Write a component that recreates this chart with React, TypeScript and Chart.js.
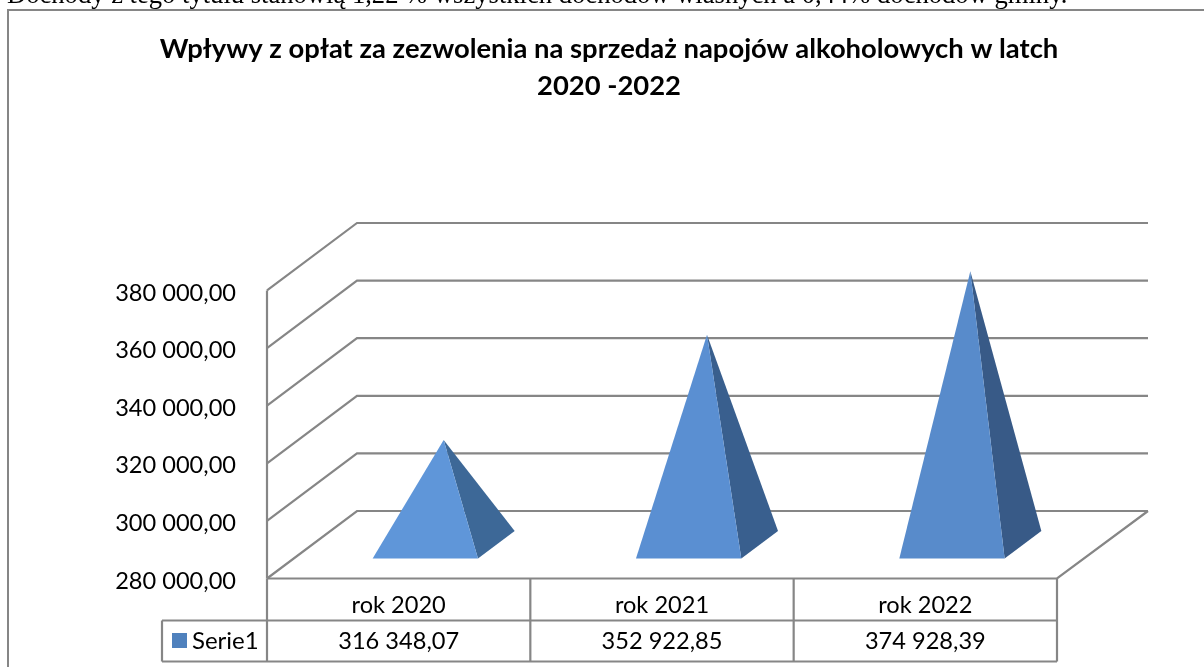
import React, { useEffect, useRef } from "react";
import { Chart, registerables } from "chart.js";

Chart.register(...registerables);

const intro = "Dochody z tego tytułu stanowią 1,22 % wszystkich dochodów własnych a 0,44% dochodów gminy.";
const titleLines = ["Wpływy z opłat za zezwolenia na sprzedaż napojów alkoholowych w latch", "2020 -2022"];
const categories = ["rok 2020", "rok 2021", "rok 2022"];
const seriesName = "Serie1";
const seriesValues = [316348.07, 352922.85, 374928.39];
const frontColors = ["#5f96d9", "#5a8fd2", "#588bcb"];
const sideColors = ["#3d6897", "#395f8e", "#385a87"];

const FONT = "Lato, Carlito, Calibri, sans-serif";
const LINE = "#868686";
const DEPTH_X = 90;
const DEPTH_Y = 67.5;
const BASE_INSET = 0.296;

const fmt = (v: number) => {
  const [a, b] = v.toFixed(2).split(".");
  return a.replace(/\B(?=(\d{3})+(?!\d))/g, " ") + "," + b;
};

const scene = {
  id: "scene3d",
  beforeDatasetsDraw(chart: any) {
    const { ctx, scales } = chart;
    const y = scales.y;
    const x = scales.x;
    const { left, right, bottom, top } = chart.chartArea;
    ctx.save();
    ctx.strokeStyle = LINE;
    ctx.lineWidth = 2.2;
    ctx.lineJoin = "miter";
    y.ticks.forEach((t: any) => {
      const py = y.getPixelForValue(t.value);
      ctx.beginPath();
      ctx.moveTo(left, py);
      ctx.lineTo(left + DEPTH_X, py - DEPTH_Y);
      ctx.lineTo(right + DEPTH_X + 1, py - DEPTH_Y);
      ctx.stroke();
    });
    ctx.beginPath();
    ctx.moveTo(right + DEPTH_X + 1, bottom - DEPTH_Y);
    ctx.lineTo(right, bottom);
    ctx.lineTo(left, bottom);
    ctx.stroke();
    ctx.beginPath();
    ctx.moveTo(left, top);
    ctx.lineTo(left, bottom);
    ctx.stroke();

    const tableMid = 620.5;
    const tableBottom = 661.5;
    const tableLeft = 162;
    ctx.beginPath();
    ctx.moveTo(tableLeft, tableMid);
    ctx.lineTo(right, tableMid);
    ctx.moveTo(tableLeft, tableBottom);
    ctx.lineTo(right, tableBottom);
    ctx.moveTo(tableLeft, tableMid);
    ctx.lineTo(tableLeft, tableBottom);
    const step = (right - left) / categories.length;
    for (let i = 0; i <= categories.length; i++) {
      ctx.moveTo(left + step * i, bottom);
      ctx.lineTo(left + step * i, tableBottom);
    }
    ctx.stroke();

    ctx.fillStyle = "#4f81bd";
    ctx.fillRect(172, 633, 15, 15);
    ctx.fillStyle = "#000";
    ctx.textBaseline = "middle";
    ctx.textAlign = "left";
    ctx.font = `24px ${FONT}`;
    ctx.fillText(seriesName, 192, 641);
    ctx.font = `23.6px ${FONT}`;
    ctx.textAlign = "center";
    seriesValues.forEach((v, i) => {
      ctx.fillText(fmt(v), x.getPixelForValue(i), 641);
    });
    ctx.restore();
  },
  afterDatasetsDraw(chart: any) {
    const { ctx } = chart;
    const bottom = chart.chartArea.bottom;
    chart.getDatasetMeta(0).data.forEach((bar: any, i: number) => {
      const w = bar.width;
      const fx = bar.x + BASE_INSET * DEPTH_X;
      const fy = bottom - BASE_INSET * DEPTH_Y;
      const bx = bar.x + (1 - BASE_INSET) * DEPTH_X;
      const by = bottom - (1 - BASE_INSET) * DEPTH_Y;
      const apexX = bar.x + DEPTH_X / 2;
      const apexY = bar.y - DEPTH_Y / 2;
      ctx.save();
      ctx.fillStyle = sideColors[i];
      ctx.beginPath();
      ctx.moveTo(apexX, apexY);
      ctx.lineTo(fx + w / 2, fy);
      ctx.lineTo(bx + w / 2, by);
      ctx.closePath();
      ctx.fill();
      ctx.fillStyle = frontColors[i];
      ctx.beginPath();
      ctx.moveTo(apexX, apexY);
      ctx.lineTo(fx - w / 2, fy);
      ctx.lineTo(fx + w / 2, fy);
      ctx.closePath();
      ctx.fill();
      ctx.restore();
    });
  },
};

export default function App() {
  const ref = useRef<HTMLCanvasElement>(null);
  useEffect(() => {
    document.body.style.margin = "0";
    const chart = new Chart(ref.current as HTMLCanvasElement, {
      type: "bar",
      data: {
        labels: categories,
        datasets: [
          {
            label: seriesName,
            data: seriesValues,
            backgroundColor: "rgba(0,0,0,0)",
            categoryPercentage: 0.4,
            barPercentage: 1,
          },
        ],
      },
      plugins: [scene],
      options: {
        responsive: false,
        animation: false,
        events: [],
        layout: { padding: { left: 14, right: 0, top: 0, bottom: 5 } },
        plugins: {
          legend: { display: false },
          tooltip: { enabled: false },
          title: {
            display: true,
            text: titleLines,
            color: "#000",
            font: { family: FONT, size: 27.4, weight: "bold", lineHeight: 1.35 },
            padding: { top: 31, bottom: 185.5 },
          },
        },
        scales: {
          x: {
            grid: { display: false, drawTicks: false },
            border: { display: false },
            ticks: { color: "#000", font: { family: FONT, size: 23.6 }, padding: 13, maxRotation: 0 },
            afterFit: (s: any) => { s.height = 83.5; },
          },
          y: {
            min: 280000,
            max: 380000,
            grid: { display: false, drawTicks: false },
            border: { display: false },
            ticks: {
              stepSize: 20000,
              color: "#000",
              font: { family: FONT, size: 23.6 },
              padding: 31,
              labelOffset: 2.5,
              callback: (v: any) => fmt(Number(v)),
            },
            afterFit: (s: any) => { s.width = 253; },
          },
          rightGutter: {
            position: "right",
            display: true,
            grid: { display: false, drawTicks: false },
            border: { display: false },
            ticks: { display: false },
            afterFit: (s: any) => { s.width = 147; },
          },
        },
      },
    } as any);
    return () => chart.destroy();
  }, []);
  return (
    <div style={{ position: "fixed", inset: 0, background: "#fff", overflow: "hidden" }}>
      <canvas ref={ref} width={1204} height={667} style={{ position: "absolute", left: 0, top: 0, display: "block" }} />
      <div
        style={{
          position: "absolute",
          left: 7,
          top: 9,
          right: 0,
          bottom: 0,
          borderTop: `2px solid ${LINE}`,
          borderLeft: `2px solid ${LINE}`,
          pointerEvents: "none",
        }}
      />
      <div
        style={{
          position: "absolute",
          left: 7,
          top: -18,
          fontFamily: '"Liberation Serif", serif',
          fontSize: 26.6,
          lineHeight: "24px",
          whiteSpace: "nowrap",
          color: "#000",
        }}
      >
        {intro}
      </div>
    </div>
  );
}
